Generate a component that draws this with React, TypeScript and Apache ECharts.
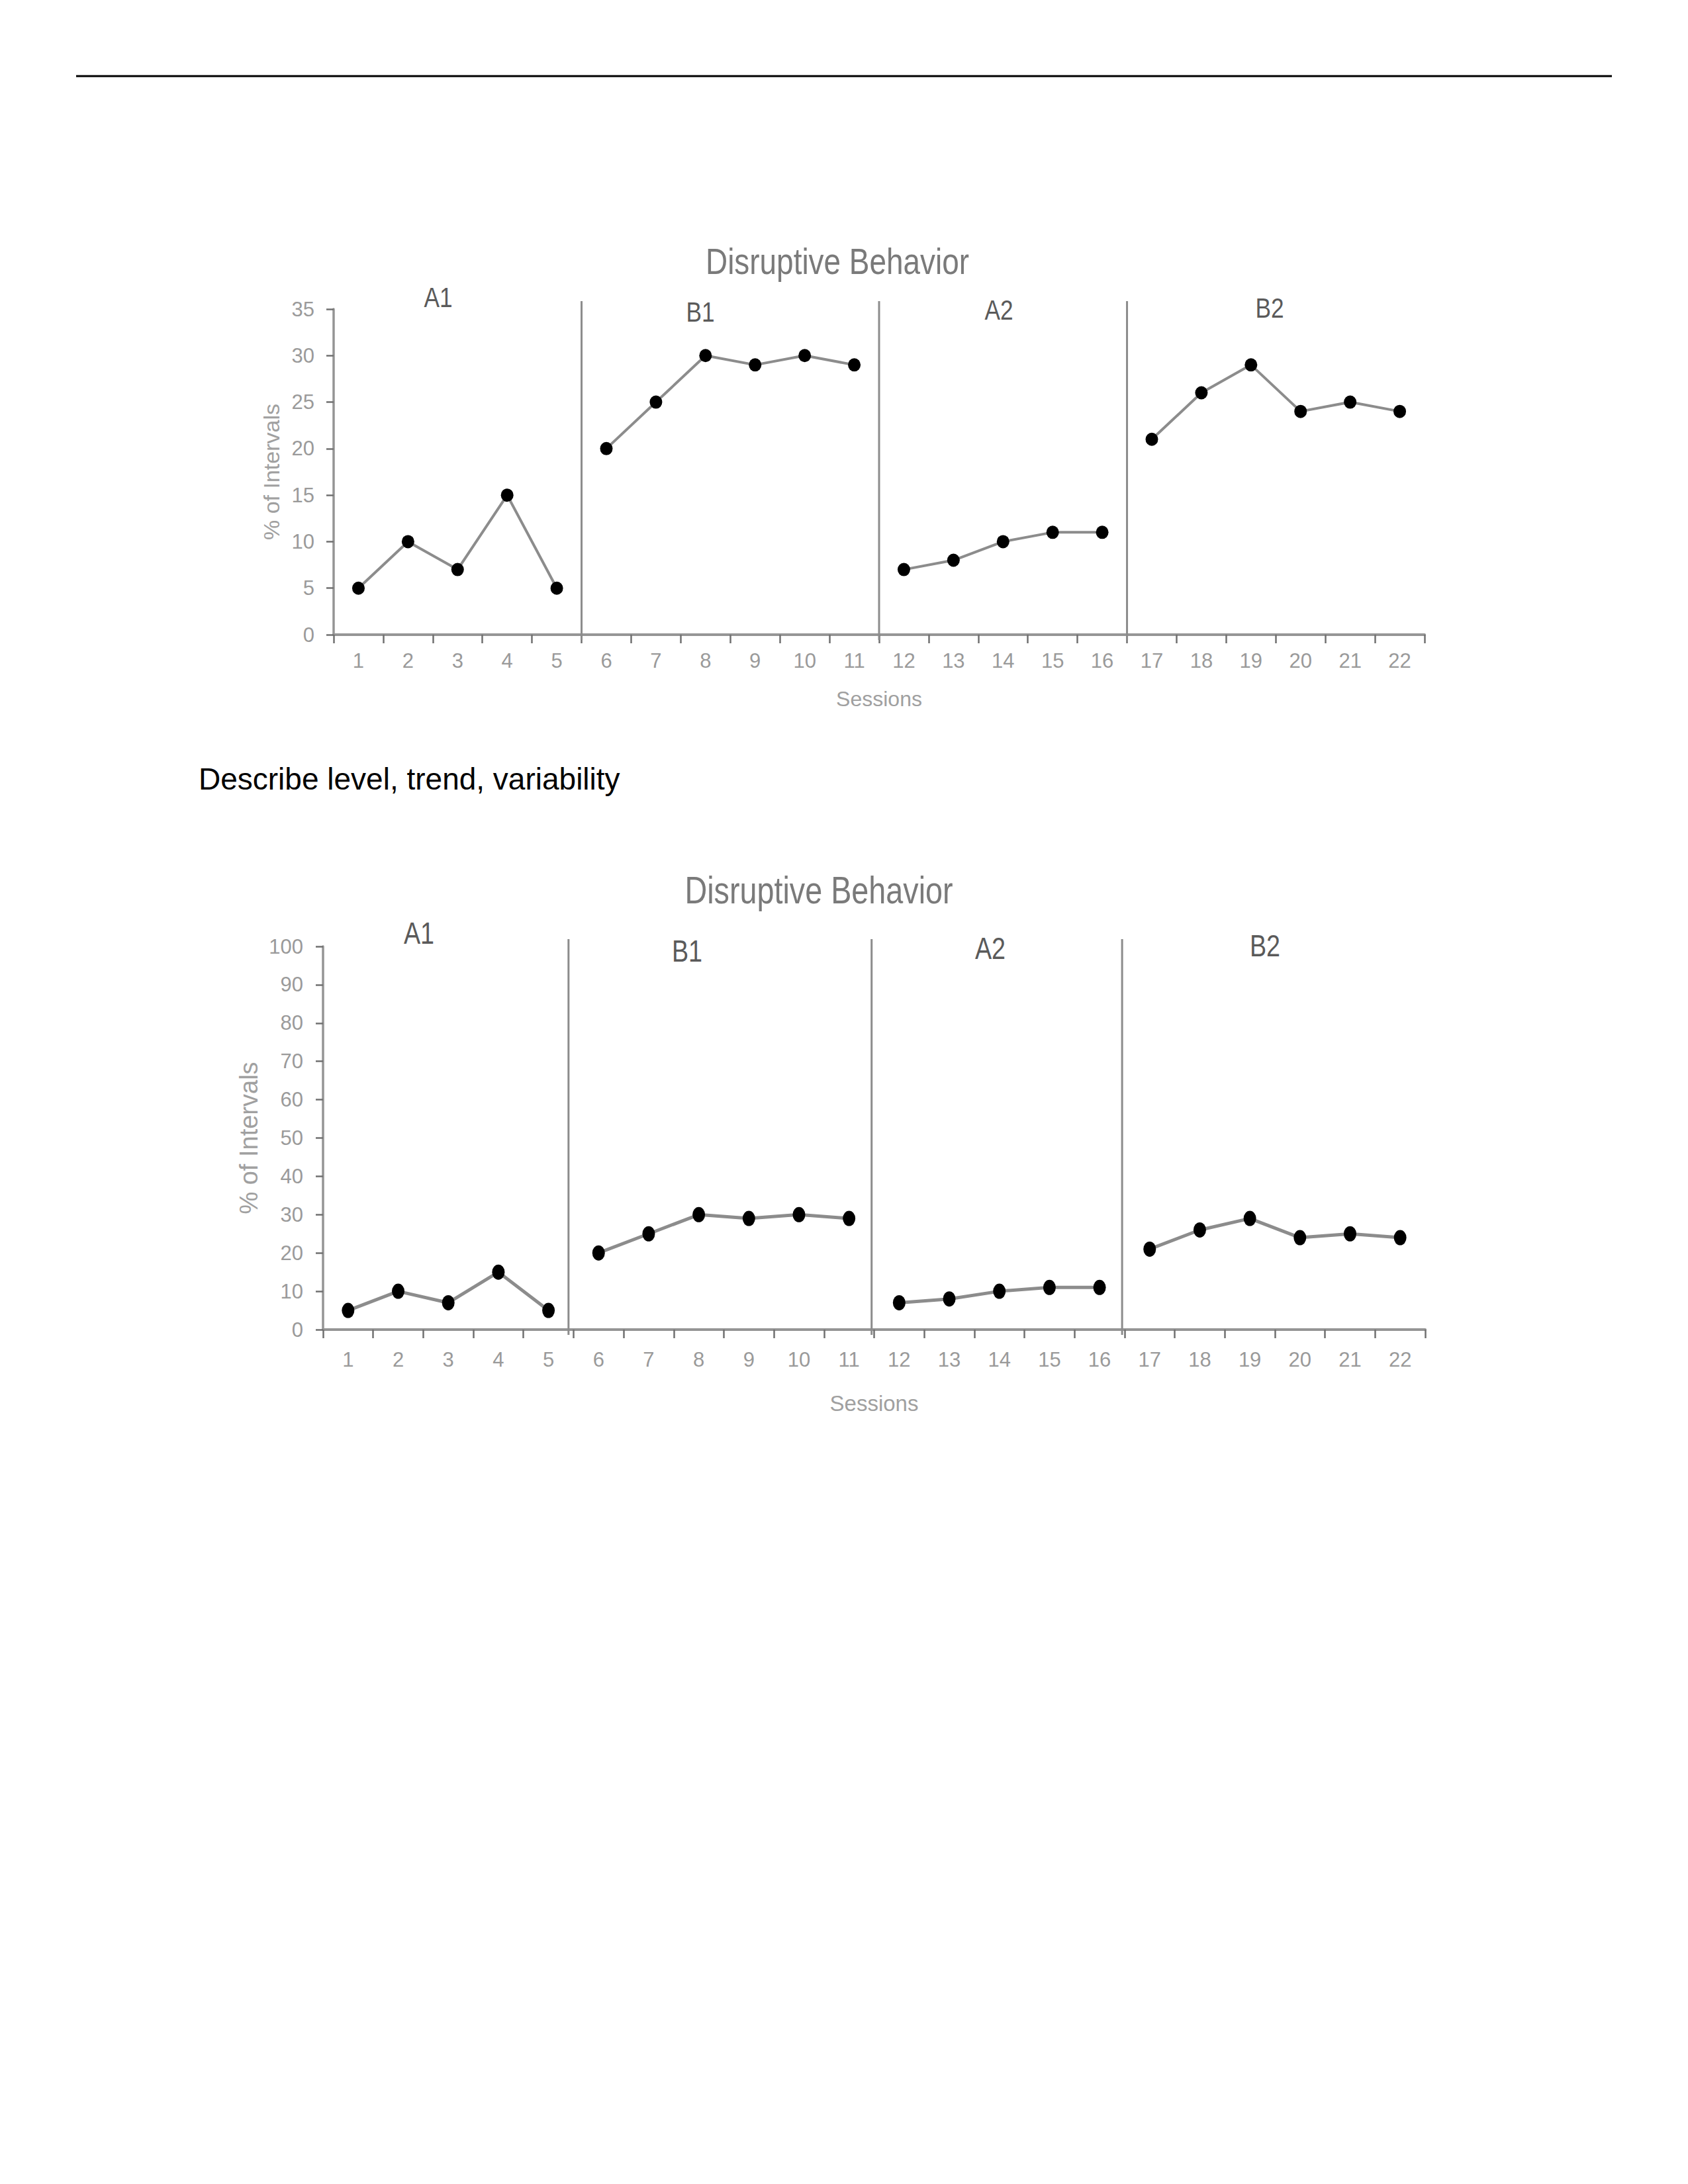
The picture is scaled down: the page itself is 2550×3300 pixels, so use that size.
import React, { useEffect, useRef } from 'react';
import * as echarts from 'echarts';

// ---------- data ----------
const sessions = ['1', '2', '3', '4', '5', '6', '7', '8', '9', '10', '11', '12', '13', '14', '15', '16', '17', '18', '19', '20', '21', '22'];
const phaseNames = ['A1', 'B1', 'A2', 'B2'];
const phaseA1 = [5, 10, 7, 15, 5];
const phaseB1 = [20, 25, 30, 29, 30, 29];
const phaseA2 = [7, 8, 10, 11, 11];
const phaseB2 = [21, 26, 29, 24, 25, 24];
const yTicksTop = [0, 5, 10, 15, 20, 25, 30, 35];
const yTicksBottom = [0, 10, 20, 30, 40, 50, 60, 70, 80, 90, 100];
const phaseBreaksTop = [5, 11, 16];
const phaseBreaksBottom = [4.9, 10.95, 15.95];
const chartTitle = 'Disruptive Behavior';
const yAxisTitle = '% of Intervals';
const xAxisTitle = 'Sessions';
const promptText = 'Describe level, trend, variability';

const phases = [phaseA1, phaseB1, phaseA2, phaseB2];

function phaseData(k: number): (number | null)[] {
  let start = 0;
  for (let i = 0; i < k; i++) start += phases[i].length;
  const vals = phases[k];
  return sessions.map((_, i) => (i >= start && i < start + vals.length ? vals[i - start] : null));
}

const SANS = "'Liberation Sans', Arial, sans-serif";
const ELLIPSE = 'path://M0 -10A10 10 0 1 1 0 10A10 10 0 1 1 0 -10Z';
const NARROW_SCALE = 0.82;

interface PanelCfg {
  grid: { left: number; top: number; width: number; height: number };
  yTicks: number[];
  breaks: number[];
  tickFont: number;
  xLabelMargin: number;
  yLabelMargin: number;
  yNameGap: number;
  xNameGap: number;
  nameFont: number;
  xNameFont: number;
  lineWidth: number;
  symbolSize: number[];
  phaseTop: number;
}

const panelTop: PanelCfg = {
  grid: { left: 504, top: 467, width: 1648, height: 492 },
  yTicks: yTicksTop,
  breaks: phaseBreaksTop,
  tickFont: 31,
  xLabelMargin: 24,
  yLabelMargin: 29,
  yNameGap: 77,
  xNameGap: 81,
  nameFont: 34,
  xNameFont: 32,
  lineWidth: 4,
  symbolSize: [19, 20],
  phaseTop: 12,
};

const panelBottom: PanelCfg = {
  grid: { left: 488, top: 1430, width: 1665, height: 579 },
  yTicks: yTicksBottom,
  breaks: phaseBreaksBottom,
  tickFont: 31,
  xLabelMargin: 30,
  yLabelMargin: 30,
  yNameGap: 90,
  xNameGap: 95,
  nameFont: 38,
  xNameFont: 33,
  lineWidth: 5,
  symbolSize: [19, 23],
  phaseTop: 11,
};

export default function App() {
  const ref = useRef<HTMLDivElement>(null);

  useEffect(() => {
    document.body.style.margin = '0';
    if (!ref.current) return;
    const chart = echarts.init(ref.current, null, { renderer: 'svg' });

    const panels = [panelTop, panelBottom];
    const grids: any[] = [];
    const xAxes: any[] = [];
    const yAxes: any[] = [];
    const series: any[] = [];

    panels.forEach((p, gi) => {
      grids.push({ ...p.grid, containLabel: false });
      const yMax = p.yTicks[p.yTicks.length - 1];
      const yInt = p.yTicks[1] - p.yTicks[0];
      const catIdx = xAxes.length;
      xAxes.push({
        type: 'category',
        gridIndex: gi,
        data: sessions,
        boundaryGap: true,
        name: xAxisTitle,
        nameLocation: 'middle',
        nameGap: p.xNameGap,
        nameTextStyle: { fontFamily: SANS, fontSize: p.xNameFont, color: '#a0a0a0' },
        axisLine: { show: true, lineStyle: { color: '#959595', width: 4 } },
        axisTick: { show: true, interval: 0, length: 13, alignWithLabel: false, lineStyle: { color: '#707070', width: 2.5 } },
        axisLabel: { interval: 0, margin: p.xLabelMargin, fontFamily: SANS, fontSize: p.tickFont, color: '#9a9a9a' },
        splitLine: { show: false },
      });
      const valIdx = xAxes.length;
      xAxes.push({ type: 'value', gridIndex: gi, min: 0, max: sessions.length, show: false });
      const yIdx = yAxes.length;
      yAxes.push({
        type: 'value',
        gridIndex: gi,
        min: 0,
        max: yMax,
        interval: yInt,
        name: yAxisTitle,
        nameLocation: 'middle',
        nameRotate: 90,
        nameGap: p.yNameGap,
        nameTextStyle: { fontFamily: SANS, fontSize: p.nameFont, color: '#a0a0a0' },
        axisLine: { show: true, lineStyle: { color: '#959595', width: 3.5 } },
        axisTick: { show: true, length: 11, lineStyle: { color: '#707070', width: 2.5 } },
        axisLabel: { margin: p.yLabelMargin, fontFamily: SANS, fontSize: p.tickFont, color: '#9a9a9a' },
        splitLine: { show: false },
      });

      phases.forEach((_, k) => {
        series.push({
          type: 'line',
          name: phaseNames[k] + '-' + gi,
          xAxisIndex: catIdx,
          yAxisIndex: yIdx,
          data: phaseData(k),
          connectNulls: false,
          symbol: ELLIPSE,
          symbolSize: p.symbolSize,
          lineStyle: { color: '#8c8c8c', width: p.lineWidth },
          itemStyle: { color: '#000000' },
          z: 3,
        });
      });

      series.push({
        type: 'custom',
        xAxisIndex: valIdx,
        yAxisIndex: yIdx,
        data: p.breaks.map((b) => [b, 0]),
        encode: { x: 0, y: 1 },
        silent: true,
        z: 2,
        renderItem: (params: any, api: any) => {
          const x = api.value(0);
          const b = api.coord([x, 0]);
          const t = api.coord([x, yMax]);
          return {
            type: 'line',
            shape: { x1: b[0], y1: b[1] + 8, x2: t[0], y2: t[1] - p.phaseTop },
            style: { stroke: '#8c8c8c', lineWidth: 3 },
          };
        },
      });
    });

    const narrowText = (text: string, x: number, y: number, size: number, fill: string) => ({
      type: 'text',
      x,
      y,
      scaleX: NARROW_SCALE,
      style: { text, fontFamily: SANS, fontSize: size, fill, align: 'center', verticalAlign: 'middle' },
    });

    const graphic: any[] = [
      { type: 'line', shape: { x1: 115, y1: 115, x2: 2435, y2: 115 }, style: { stroke: '#000', lineWidth: 3 } },
      narrowText(chartTitle, 1265, 395, 56, '#7a7a7a'),
      narrowText(chartTitle, 1237, 1345, 57, '#7a7a7a'),
      {
        type: 'text', x: 300, y: 1177,
        style: { text: promptText, fontFamily: SANS, fontSize: 46, fill: '#000', align: 'left', verticalAlign: 'middle' },
      },
      narrowText(phaseNames[0], 662, 449, 43, '#5a5a5a'),
      narrowText(phaseNames[1], 1058, 471, 43, '#5a5a5a'),
      narrowText(phaseNames[2], 1509, 468, 43, '#5a5a5a'),
      narrowText(phaseNames[3], 1918, 465, 43, '#5a5a5a'),
      narrowText(phaseNames[0], 633, 1410, 46, '#5a5a5a'),
      narrowText(phaseNames[1], 1038, 1437, 46, '#5a5a5a'),
      narrowText(phaseNames[2], 1496, 1433, 46, '#5a5a5a'),
      narrowText(phaseNames[3], 1911, 1429, 46, '#5a5a5a'),
    ];

    chart.setOption({
      animation: false,
      backgroundColor: '#ffffff',
      grid: grids,
      xAxis: xAxes,
      yAxis: yAxes,
      series,
      graphic,
    });

    return () => chart.dispose();
  }, []);

  return <div ref={ref} style={{ width: 2550, height: 3300 }} />;
}
